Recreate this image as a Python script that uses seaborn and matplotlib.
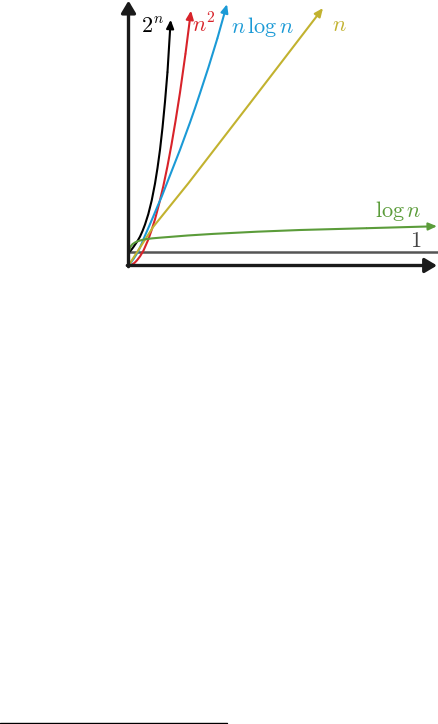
import numpy as np
import pandas as pd
import matplotlib
matplotlib.use("Agg")
import matplotlib.pyplot as plt
import seaborn as sns
from matplotlib.lines import Line2D

sns.set_theme(style="white")
plt.rcParams['font.family'] = ['DejaVu Sans']
plt.rcParams['mathtext.fontset'] = 'cm'

# Значения (x = n, y = стоимость; серая линия = 1)
exp_x = [0.0, 0.2, 0.35, 0.5, 0.65, 0.9, 1.15, 1.4, 1.65, 1.98, 2.32, 2.65, 2.9, 3.15, 3.4, 3.65, 3.9, 4.22]
exp_y = [1.0, 1.13, 1.27, 1.43, 1.6, 1.88, 2.22, 2.65, 3.15, 3.95, 5.0, 6.3, 7.5, 8.9, 10.6, 12.6, 14.9, 18.9]

sq_x = [0.0, 0.32, 0.6, 0.85, 1.15, 1.5, 1.98, 2.3, 2.65, 3.08, 3.48, 3.9, 4.3, 4.7, 5.15, 5.7, 6.25]
sq_y = [0.0, 0.07, 0.2, 0.4, 0.7, 1.15, 2.0, 2.7, 3.55, 4.8, 6.1, 7.65, 9.3, 11.1, 13.3, 16.3, 19.6]

nlog_x = [0.0, 0.15, 0.5, 0.95, 1.3, 1.65, 2.05, 2.45, 2.9, 3.32, 3.65, 3.98, 4.55, 5.15, 5.65, 6.15, 6.65, 7.15, 8.0, 8.9, 9.85]
nlog_y = [0.0, 0.12, 0.5, 1.05, 1.65, 2.3, 3.0, 3.72, 4.55, 5.3, 5.95, 6.6, 7.72, 8.9, 9.95, 11.0, 12.1, 13.25, 15.25, 17.5, 20.1]

lin_x = [0.0, 2.48, 5.98, 12.15, 19.45]
lin_y = [0.0, 2.98, 6.32, 12.48, 19.8]

log_x = [0.0, 0.1, 0.25, 0.4, 0.65, 0.9, 1.15, 1.5, 1.85, 2.4, 3.15, 4.15, 5.95, 8.45, 12.85, 17.15, 23.85, 30.85]
log_y = [0.9, 1.25, 1.5, 1.64, 1.77, 1.86, 1.92, 1.99, 2.04, 2.09, 2.14, 2.2, 2.31, 2.43, 2.6, 2.73, 2.87, 3.02]

const_x = [0.1, 30.95]
const_y = [1.0, 1.0]

labels = [r"$2^n$", r"$n^2$", r"$n\,\log n$", r"$n$", r"$\log n$", r"$1$"]
label_x = [2.35, 7.55, 13.4, 21.05, 27.0, 28.75]
label_y = [18.35, 18.5, 18.35, 18.5, 4.19, 1.92]

c_exp = "#000000"
c_sq = "#d8232a"
c_nlog = "#1b9ad6"
c_lin = "#c2b22f"
c_log = "#5b9c3a"
c_one = "#555555"

fig = plt.figure(figsize=(4.39, 7.24), dpi=100)
ax = fig.add_axes([128.5 / 439, 1 - 265.5 / 724, 310.5 / 439, 265.5 / 724])
ax.set_xlim(0, 31.05)
ax.set_ylim(0, 20.42)
ax.axis('off')

curves = [
    (exp_x, exp_y, c_exp),
    (sq_x, sq_y, c_sq),
    (nlog_x, nlog_y, c_nlog),
    (lin_x, lin_y, c_lin),
    (log_x, log_y, c_log),
]

# серая линия "1"
sns.lineplot(x=const_x, y=const_y, color=c_one, lw=1.8, ax=ax, sort=False, estimator=None)

for xs, ys, col in curves:
    df = pd.DataFrame({'x': xs[:-1], 'y': ys[:-1]})
    sns.lineplot(data=df, x='x', y='y', color=col, lw=1.5, ax=ax, sort=False, estimator=None)
    ax.annotate("", xy=(xs[-1], ys[-1]), xytext=(xs[-2], ys[-2]),
                arrowprops=dict(arrowstyle="-|>,head_length=0.5,head_width=0.22",
                                color=col, lw=1.5, shrinkA=0, shrinkB=0,
                                mutation_scale=10),
                annotation_clip=False)

for line in ax.lines:
    line.set_clip_on(False)
    line.set_solid_capstyle('butt')
    line.set_solid_joinstyle('round')

# оси со стрелками
ax_style = dict(arrowstyle="-|>,head_length=0.72,head_width=0.43", color="#1a1a1a",
                lw=2.4, shrinkA=0, shrinkB=0, mutation_scale=10)
ax.annotate("", xy=(30.85, 0), xytext=(-0.12, 0), arrowprops=ax_style,
            annotation_clip=False, zorder=5)
ax.annotate("", xy=(0, 20.37), xytext=(0, -0.09), arrowprops=ax_style,
            annotation_clip=False, zorder=5)

label_colors = [c_exp, c_sq, c_nlog, c_lin, c_log, "#444444"]
for txt, lx, ly, col in zip(labels, label_x, label_y, label_colors):
    ax.text(lx, ly, txt, color=col, fontsize=16, ha='center', va='center')

# линия сноски внизу страницы
fig.add_artist(Line2D([0, 227 / 439], [0.001, 0.001], color='black', lw=1.0))

fig.savefig("out.png", dpi=100)
